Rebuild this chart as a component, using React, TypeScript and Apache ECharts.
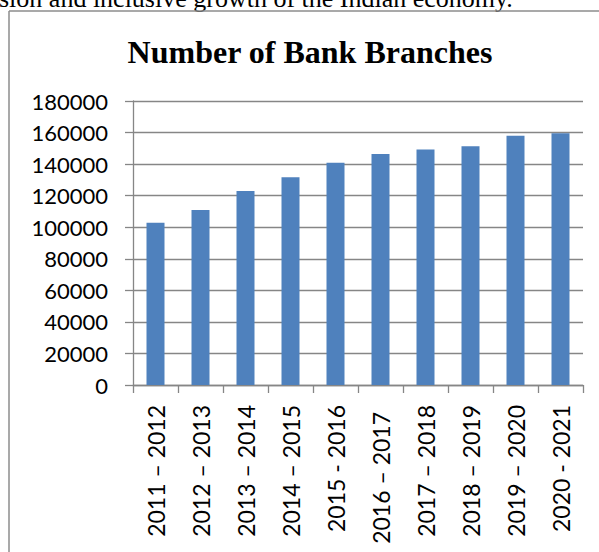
import React, { useEffect, useRef } from "react";
import * as echarts from "echarts";

const categories: string[] = [
  "2011 – 2012",
  "2012 – 2013",
  "2013 – 2014",
  "2014 – 2015",
  "2015 - 2016",
  "2016 – 2017",
  "2017 – 2018",
  "2018 – 2019",
  "2019 – 2020",
  "2020 - 2021",
];

const branches: number[] = [
  102900, 110900, 123000, 131700, 140900, 146400, 149200, 151300, 158000, 159500,
];

const yTicks = { min: 0, max: 180000, interval: 20000 };

const titleText = "Number of Bank Branches";
const cutText = "sion and inclusive growth of the Indian economy.";

export default function App() {
  const ref = useRef<HTMLDivElement>(null);

  useEffect(() => {
    if (!ref.current) return;
    const chart = echarts.init(ref.current, null, { renderer: "svg" });
    const gray = "#868686";
    chart.setOption({
      animation: false,
      backgroundColor: "#ffffff",
      grid: { left: 133, right: 16, top: 101, bottom: 167, containLabel: false },
      xAxis: {
        type: "category",
        data: categories.map((c) =>
          c === "2016 – 2017" ? { value: c, textStyle: { padding: [0, 7, 0, 0] } } : c
        ),
        boundaryGap: true,
        axisLine: { show: true, lineStyle: { color: gray, width: 1.3 } },
        axisTick: { show: true, alignWithLabel: false, length: 8, lineStyle: { color: gray, width: 1.3 } },
        axisLabel: {
          rotate: 90,
          interval: 0,
          margin: 20,
          color: "#000000",
          fontFamily: "Lato",
          fontWeight: "normal",
          fontSize: 23,
        },
        splitLine: { show: false },
      },
      yAxis: {
        type: "value",
        min: yTicks.min,
        max: yTicks.max,
        interval: yTicks.interval,
        axisLine: { show: true, lineStyle: { color: gray, width: 1.3 } },
        axisTick: { show: true, length: 8, lineStyle: { color: gray, width: 1.3 } },
        axisLabel: {
          margin: 25,
          color: "#000000",
          fontFamily: "Lato",
          fontWeight: "normal",
          fontSize: 22,
          formatter: (v: number) => String(v),
        },
        splitLine: { show: true, lineStyle: { color: gray, width: 1.3 } },
      },
      series: [
        {
          type: "bar",
          data: branches,
          barWidth: 18,
          itemStyle: { color: "#4F81BD" },
        },
      ],
      graphic: [
        {
          type: "text",
          x: -1,
          y: -2,
          style: {
            text: cutText,
            fontFamily: "Liberation Serif",
            fontSize: 26,
            fill: "#000000",
            textAlign: "left",
            textVerticalAlign: "middle",
          },
        },
        {
          type: "text",
          x: 310,
          y: 52,
          style: {
            text: titleText,
            fontFamily: "Liberation Serif",
            fontWeight: "bold",
            fontSize: 32,
            fill: "#000000",
            textAlign: "center",
            textVerticalAlign: "middle",
          },
        },
        {
          type: "line",
          shape: { x1: 9, y1: 11, x2: 9, y2: 552 },
          style: { stroke: "#8c8c8c", lineWidth: 1.5 },
        },
        {
          type: "line",
          shape: { x1: 9, y1: 11, x2: 599, y2: 11 },
          style: { stroke: "#8c8c8c", lineWidth: 1.5 },
        },
      ],
    });
    return () => chart.dispose();
  }, []);

  return (
    <div
      ref={ref}
      style={{ position: "fixed", left: 0, top: 0, width: 599, height: 552, background: "#fff", overflow: "hidden" }}
    />
  );
}
